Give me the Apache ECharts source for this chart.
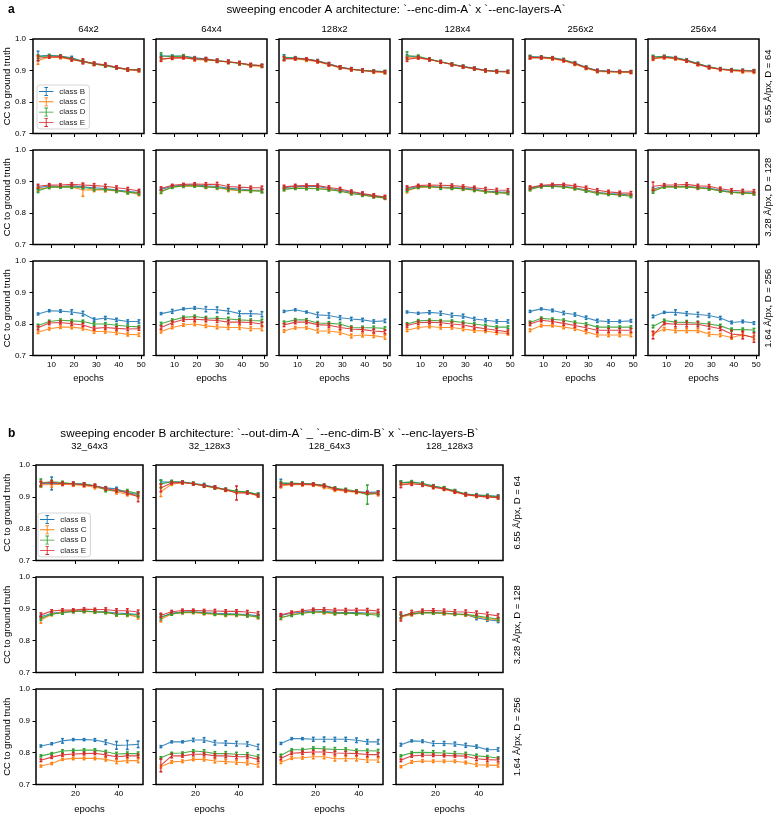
<!DOCTYPE html>
<html><head><meta charset="utf-8">
<script src="https://cdn.jsdelivr.net/npm/echarts@6/dist/echarts.min.js"></script>
<style>html,body{margin:0;padding:0;background:#fff}#c{width:782px;height:816px}</style>
</head><body><div id="c"></div>
<script>
// ---------------- DATA ----------------
const epochs = [4,9,14,19,24,29,34,39,44,49];
const classNames = ['class B','class C','class D','class E'];
const classColors = ['#1f77b4','#ff7f0e','#2ca02c','#d62728'];
const yTicks = [0.7,0.8,0.9,1.0];
const aXTicks = [10,20,30,40,50];
const bXTicks = [20,40];
const aCols = ['64x2','64x4','128x2','128x4','256x2','256x4'];
const bCols = ['32_64x3','32_128x3','128_64x3','128_128x3'];
const rowLabels = ['6.55 Å/px, D = 64','3.28 Å/px, D = 128','1.64 Å/px, D = 256'];
const aTitle = 'sweeping encoder A architecture: `--enc-dim-A` x `--enc-layers-A`';
const bTitle = 'sweeping encoder B architecture: `--out-dim-A` _ `--enc-dim-B` x `--enc-layers-B`';
const yLabel = 'CC to ground truth';
const xLabel = 'epochs';

// panel a: 18 subplots, row-major (row0: 6.55, row1: 3.28, row2: 1.64)
const aB = [
 [.946,.948,.946,.940,.929,.921,.917,.910,.903,.902],
 [.946,.946,.946,.940,.937,.931,.928,.923,.917,.915],
 [.942,.940,.936,.931,.921,.911,.905,.901,.898,.897],
 [.946,.943,.935,.928,.920,.913,.907,.901,.898,.897],
 [.944,.943,.940,.934,.924,.910,.900,.898,.896,.896],
 [.943,.945,.941,.933,.922,.912,.905,.902,.900,.899],
 [.880,.886,.884,.886,.883,.880,.878,.873,.869,.865],
 [.875,.885,.889,.889,.886,.884,.879,.876,.873,.872],
 [.880,.884,.885,.884,.878,.872,.866,.860,.854,.850],
 [.877,.884,.884,.882,.881,.879,.876,.870,.867,.866],
 [.879,.886,.887,.885,.880,.873,.866,.862,.860,.857],
 [.876,.885,.884,.885,.881,.879,.872,.867,.865,.863],
 [.832,.842,.841,.838,.833,.814,.819,.813,.808,.808],
 [.833,.840,.848,.851,.847,.845,.841,.833,.833,.831],
 [.840,.845,.838,.829,.827,.820,.816,.813,.808,.810],
 [.838,.834,.837,.834,.828,.825,.816,.812,.808,.808],
 [.840,.848,.843,.835,.830,.820,.810,.808,.808,.810],
 [.824,.837,.837,.833,.830,.827,.819,.805,.808,.803]
];
const aC = [
 [.932,.942,.941,.935,.928,.920,.916,.909,.902,.899],
 [.936,.939,.941,.935,.933,.930,.926,.923,.915,.913],
 [.938,.937,.933,.928,.918,.908,.903,.899,.895,.893],
 [.940,.940,.934,.927,.919,.911,.905,.899,.896,.895],
 [.940,.940,.937,.931,.920,.907,.897,.895,.894,.894],
 [.937,.941,.937,.930,.919,.909,.903,.899,.896,.895],
 [.875,.882,.883,.883,.873,.874,.873,.870,.866,.860],
 [.867,.883,.885,.886,.883,.880,.874,.871,.871,.870],
 [.876,.879,.879,.878,.875,.870,.862,.857,.852,.847],
 [.870,.882,.883,.881,.879,.876,.872,.868,.864,.863],
 [.876,.884,.885,.883,.878,.871,.864,.860,.857,.856],
 [.872,.883,.883,.883,.879,.877,.870,.865,.863,.861],
 [.774,.785,.790,.790,.786,.776,.776,.772,.767,.766],
 [.776,.789,.797,.800,.794,.791,.789,.789,.785,.785],
 [.778,.788,.788,.778,.778,.773,.762,.765,.763,.758],
 [.780,.789,.792,.789,.789,.784,.779,.778,.772,.770],
 [.780,.795,.795,.790,.785,.775,.765,.765,.765,.765],
 [.770,.784,.779,.779,.779,.768,.765,.757,.766,.757]
];
const aD = [
 [.944,.946,.946,.937,.929,.921,.915,.909,.903,.902],
 [.946,.944,.946,.938,.935,.931,.927,.923,.917,.915],
 [.941,.939,.936,.930,.920,.910,.904,.900,.898,.896],
 [.947,.945,.936,.928,.920,.912,.906,.900,.897,.896],
 [.943,.942,.940,.934,.923,.909,.899,.897,.896,.896],
 [.943,.944,.940,.932,.921,.911,.905,.902,.900,.899],
 [.871,.882,.883,.882,.881,.876,.875,.871,.866,.863],
 [.868,.882,.886,.886,.883,.881,.876,.872,.871,.869],
 [.875,.879,.878,.877,.874,.869,.862,.857,.852,.848],
 [.873,.882,.884,.880,.879,.877,.873,.868,.865,.863],
 [.875,.884,.884,.883,.878,.870,.862,.860,.857,.853],
 [.868,.883,.883,.883,.880,.877,.870,.866,.864,.862],
 [.795,.808,.812,.810,.808,.800,.800,.796,.793,.791],
 [.801,.812,.821,.824,.819,.818,.816,.813,.811,.810],
 [.805,.813,.813,.803,.802,.800,.789,.788,.788,.786],
 [.800,.810,.812,.810,.809,.805,.800,.795,.790,.790],
 [.805,.818,.815,.812,.805,.800,.790,.790,.790,.790],
 [.792,.811,.806,.805,.803,.800,.794,.782,.782,.781]
];
const aE = [
 [.939,.943,.944,.935,.929,.922,.918,.910,.903,.901],
 [.936,.940,.941,.937,.936,.931,.928,.924,.918,.916],
 [.937,.938,.936,.929,.920,.910,.904,.900,.897,.895],
 [.935,.941,.935,.927,.919,.912,.906,.900,.897,.896],
 [.941,.941,.939,.932,.922,.909,.899,.897,.896,.895],
 [.939,.942,.939,.931,.920,.910,.904,.901,.899,.898],
 [.885,.889,.889,.891,.889,.887,.885,.880,.876,.870],
 [.878,.888,.891,.892,.891,.891,.884,.882,.880,.880],
 [.883,.886,.887,.887,.881,.876,.868,.862,.856,.851],
 [.880,.887,.889,.888,.887,.884,.880,.876,.873,.872],
 [.881,.888,.890,.890,.886,.880,.872,.867,.864,.863],
 [.885,.889,.889,.891,.886,.885,.877,.872,.870,.869],
 [.788,.803,.805,.801,.797,.786,.789,.786,.784,.785],
 [.789,.804,.814,.815,.813,.811,.806,.806,.805,.800],
 [.797,.806,.806,.798,.796,.789,.784,.782,.778,.775],
 [.795,.804,.806,.804,.800,.797,.790,.785,.780,.775],
 [.800,.812,.808,.802,.795,.788,.780,.780,.780,.780],
 [.765,.802,.799,.799,.799,.792,.785,.768,.765,.757]
];
// error bar half-lengths, in thousandths of CC
const aBErrMilli = [
 [15,3,3,5,4,4,4,4,4,3],[4,3,4,4,4,4,4,4,4,3],[8,4,4,4,4,4,4,4,3,3],[4,4,4,4,4,4,4,4,3,3],[4,3,3,4,4,4,4,3,3,3],[4,3,3,4,4,4,4,3,3,3],
 [6,4,4,4,5,5,5,5,5,5],[4,3,3,3,4,4,5,5,5,5],[4,4,4,4,4,4,4,4,4,4],[6,3,3,4,4,4,4,4,4,4],[4,3,3,4,4,4,4,4,4,4],[5,3,3,3,4,4,4,4,4,4],
 [3,3,4,7,7,5,5,5,5,5],[3,6,3,4,8,9,8,8,8,8],[3,3,3,8,8,6,5,5,5,5],[3,3,5,6,6,6,5,5,5,5],[3,3,4,5,5,5,5,5,4,4],[4,3,8,6,7,6,5,4,4,4]
];
const aCErrMilli = [
 [12,3,4,4,5,5,4,4,4,4],[5,4,4,5,5,4,4,4,4,4],[5,4,4,4,4,4,4,4,4,4],[5,4,4,4,4,4,4,4,4,4],[4,4,4,4,4,4,4,4,4,4],[5,4,4,4,4,4,4,4,4,4],
 [6,4,4,4,20,6,6,5,5,5],[5,4,4,4,5,5,6,6,6,5],[5,4,4,4,4,4,4,4,4,4],[6,4,4,4,4,4,4,4,4,4],[5,4,4,4,4,4,4,4,4,4],[5,4,4,4,4,4,4,4,4,4],
 [4,4,4,5,5,5,5,5,5,5],[4,4,4,5,5,6,6,6,6,6],[4,4,4,6,6,6,6,6,6,6],[4,4,4,5,5,5,5,5,5,5],[4,4,4,5,5,5,5,5,5,5],[5,5,6,6,6,6,5,5,6,6]
];
const aDErrMilli = [
 [6,4,4,4,4,4,4,3,3,3],[10,4,4,4,4,5,5,5,4,4],[5,4,4,4,4,4,4,4,4,4],[12,4,4,4,4,4,4,4,4,4],[4,4,4,4,4,4,4,4,4,4],[5,4,4,4,4,4,4,4,4,4],
 [6,4,4,4,4,5,5,5,5,5],[5,4,4,4,4,4,5,5,5,5],[4,4,4,4,4,4,4,4,4,4],[5,4,4,5,4,4,4,4,4,4],[4,4,4,4,4,4,4,4,4,4],[5,4,4,4,4,4,4,4,4,4],
 [4,4,4,4,4,4,4,4,4,4],[4,4,4,4,5,5,5,5,5,5],[4,4,4,5,5,5,5,5,5,5],[4,4,4,4,4,4,4,4,4,4],[4,4,4,4,4,4,4,4,4,4],[4,4,5,6,6,6,5,5,5,5]
];
const aEErrMilli = [
 [8,4,4,5,8,5,6,5,5,4],[7,4,4,5,5,5,5,5,5,4],[6,4,4,4,5,5,5,5,4,4],[6,4,4,4,4,4,4,4,4,4],[4,4,4,4,4,4,4,4,4,4],[5,4,4,4,4,4,4,4,4,4],
 [6,4,4,5,6,6,6,6,5,5],[5,3,3,4,5,6,6,6,5,5],[5,5,5,5,5,5,5,5,5,5],[6,4,4,6,5,5,5,5,5,5],[5,4,4,4,5,5,5,5,5,5],[13,4,4,5,5,5,5,5,5,5],
 [5,5,5,5,5,5,5,5,5,5],[5,5,5,6,6,6,6,6,6,6],[5,5,5,6,6,6,6,6,6,6],[5,5,5,6,6,6,6,6,6,6],[5,5,5,6,6,6,6,6,6,6],[12,4,8,8,8,8,6,12,12,15]
];

// panel b: 12 subplots, row-major
const bB = [
 [.941,.942,.942,.942,.940,.934,.928,.925,.913,.907],
 [.947,.946,.947,.942,.938,.930,.923,.917,.914,.907],
 [.943,.941,.942,.940,.935,.926,.920,.916,.914,.915],
 [.945,.946,.942,.934,.927,.918,.909,.906,.904,.902],
 [.875,.886,.890,.893,.893,.891,.891,.887,.885,.882],
 [.873,.887,.890,.891,.888,.886,.885,.884,.882,.878],
 [.879,.886,.890,.893,.892,.889,.888,.888,.887,.886],
 [.878,.883,.888,.888,.886,.884,.882,.871,.866,.862],
 [.821,.828,.837,.841,.841,.840,.833,.823,.824,.826],
 [.819,.834,.834,.840,.840,.831,.830,.828,.827,.818],
 [.829,.844,.844,.842,.842,.842,.842,.839,.834,.834],
 [.825,.837,.836,.829,.829,.827,.823,.819,.809,.810]
];
const bC = [
 [.938,.938,.940,.938,.936,.930,.924,.915,.908,.903],
 [.916,.940,.944,.941,.934,.928,.921,.914,.913,.903],
 [.934,.938,.938,.937,.930,.921,.918,.914,.911,.908],
 [.941,.942,.938,.930,.924,.915,.906,.902,.899,.897],
 [.865,.882,.890,.892,.892,.890,.889,.883,.882,.874],
 [.867,.884,.888,.889,.885,.883,.881,.881,.879,.873],
 [.871,.882,.887,.890,.888,.885,.886,.885,.884,.885],
 [.874,.882,.887,.887,.885,.883,.881,.875,.869,.866],
 [.758,.766,.779,.782,.782,.782,.779,.772,.775,.775],
 [.756,.771,.773,.779,.779,.774,.772,.770,.768,.761],
 [.770,.783,.784,.787,.787,.781,.781,.781,.777,.777],
 [.756,.771,.774,.773,.773,.773,.769,.762,.761,.760]
];
const bD = [
 [.944,.947,.945,.941,.940,.935,.922,.920,.918,.910],
 [.940,.948,.946,.942,.935,.929,.923,.918,.915,.908],
 [.943,.943,.942,.940,.936,.927,.923,.918,.907,.913],
 [.944,.947,.942,.934,.928,.919,.909,.905,.903,.900],
 [.870,.884,.887,.892,.893,.891,.889,.883,.883,.880],
 [.875,.884,.889,.890,.887,.884,.882,.882,.879,.875],
 [.873,.880,.886,.890,.890,.886,.887,.885,.883,.880],
 [.876,.885,.888,.888,.887,.884,.883,.878,.873,.868],
 [.790,.797,.805,.807,.808,.808,.803,.796,.797,.797],
 [.784,.798,.799,.805,.803,.797,.797,.795,.794,.787],
 [.792,.809,.809,.814,.812,.810,.810,.806,.806,.805],
 [.790,.800,.801,.800,.799,.797,.796,.790,.787,.783]
];
const bE = [
 [.942,.946,.941,.941,.938,.935,.926,.920,.913,.900],
 [.928,.944,.945,.941,.935,.930,.922,.912,.913,.904],
 [.938,.940,.940,.939,.935,.925,.920,.916,.913,.912],
 [.937,.941,.938,.931,.925,.916,.907,.903,.900,.898],
 [.881,.893,.896,.896,.899,.898,.898,.894,.894,.890],
 [.880,.891,.895,.895,.894,.893,.892,.892,.890,.886],
 [.881,.889,.894,.898,.898,.896,.896,.896,.896,.893],
 [.876,.888,.894,.895,.893,.891,.890,.887,.883,.878],
 [.776,.786,.793,.796,.797,.798,.793,.787,.790,.790],
 [.760,.790,.790,.795,.795,.790,.790,.787,.787,.779],
 [.782,.798,.800,.802,.802,.799,.798,.797,.794,.794],
 [.776,.790,.792,.792,.791,.790,.789,.781,.778,.777]
];
const bBErrMilli = [
 [6,20,4,4,4,4,4,5,4,5],[6,4,3,3,4,4,4,4,4,4],[12,4,4,4,4,4,4,4,4,4],[5,4,4,4,4,4,4,4,4,4],
 [5,4,4,4,4,4,4,5,5,6],[10,4,3,3,4,4,4,4,4,5],[4,4,4,4,4,4,4,4,4,4],[6,4,4,4,4,4,4,5,5,5],
 [3,3,7,3,3,4,7,12,14,10],[3,3,3,5,7,7,7,7,7,8],[3,3,3,6,7,6,6,7,7,7],[4,3,4,7,6,6,6,5,4,5]
];
const bCErrMilli = [
 [8,8,4,5,5,5,5,6,5,6],[15,4,4,4,4,4,4,4,4,4],[6,4,4,4,4,4,4,4,4,5],[5,4,4,4,4,4,4,4,4,4],
 [10,4,4,4,4,4,4,6,6,6],[8,4,4,4,4,4,5,5,5,5],[5,4,4,4,4,4,4,4,4,4],[6,4,4,4,4,4,4,5,5,5],
 [3,3,3,4,4,4,5,6,6,6],[4,4,4,4,5,6,6,6,6,6],[4,4,4,6,6,7,7,7,7,7],[3,4,4,4,4,4,4,5,5,5]
];
const bDErrMilli = [
 [12,5,4,4,4,4,6,5,5,6],[12,4,4,4,4,4,4,4,4,4],[5,4,4,4,4,4,4,4,30,5],[5,4,4,4,4,4,4,4,4,4],
 [6,4,4,4,4,4,4,5,5,6],[6,4,4,4,4,4,4,4,4,4],[5,4,4,4,4,4,4,4,4,4],[6,4,4,4,4,4,4,5,5,5],
 [3,3,4,4,4,4,4,5,5,5],[3,3,3,4,6,6,6,6,6,6],[3,3,4,4,6,6,5,5,5,5],[3,3,6,6,6,6,5,5,4,4]
];
const bEErrMilli = [
 [7,5,5,5,5,5,5,5,6,15],[12,4,4,4,4,4,4,22,4,4],[6,4,4,4,4,4,4,4,4,5],[8,5,5,5,4,4,4,4,4,4],
 [6,4,4,4,4,4,5,6,6,6],[6,4,4,4,4,5,5,5,5,5],[4,4,4,4,5,5,5,5,5,5],[14,7,5,5,6,6,6,6,6,6],
 [4,4,4,4,4,4,5,5,5,5],[20,6,4,5,5,6,6,6,6,6],[4,4,5,5,6,6,6,6,6,6],[4,4,4,4,4,4,5,6,6,6]
];

// ---------------- LAYOUT / RENDER ----------------
const FONT = '"Liberation Sans", Arial, Helvetica, sans-serif';
const chart = echarts.init(document.getElementById('c'), null, {renderer: 'canvas'});
const grids = [], xAxes = [], yAxes = [], series = [], graphics = [], legends = [];
const ICON = 'path://M0,4.5H16V5.5H0Z M7.5,0H8.5V10H7.5Z M6,0H10V1H6Z M6,9H10V10H6Z';

function makeErr(col) {
  return function (params, api) {
    const x = api.value(0), y = api.value(1), e = api.value(2);
    const lo = api.coord([x, y - e]), hi = api.coord([x, y + e]);
    const h = 1.4;
    const st = {stroke: col, lineWidth: 1.1};
    const cs = {stroke: col, lineWidth: 1.6};
    return {type: 'group', children: [
      {type: 'line', shape: {x1: lo[0], y1: lo[1], x2: hi[0], y2: hi[1]}, style: st},
      {type: 'line', shape: {x1: lo[0] - h, y1: lo[1], x2: lo[0] + h, y2: lo[1]}, style: cs},
      {type: 'line', shape: {x1: hi[0] - h, y1: hi[1], x2: hi[0] + h, y2: hi[1]}, style: cs}
    ]};
  };
}

function txt(x, y, text, opts) {
  opts = opts || {};
  graphics.push({
    type: 'text', x: x, y: y, rotation: opts.rot || 0, silent: true, z: 100,
    style: {text: text, fill: '#000', fontSize: opts.size || 9.5, fontFamily: FONT,
            fontWeight: opts.bold ? 'bold' : 'normal',
            align: opts.align || 'center', verticalAlign: 'middle'}
  });
}

function addPanel(P) {
  const nC = P.cols.length;
  for (let r = 0; r < 3; r++) {
    for (let c = 0; c < nC; c++) {
      const idx = r * nC + c;
      const g = grids.length;
      const left = P.left0 + c * P.pitch, top = P.tops[r];
      grids.push({left: left, top: top, width: P.w, height: P.h, show: true,
        borderColor: '#000', borderWidth: 1.5, backgroundColor: 'rgba(0,0,0,0)', containLabel: false});
      xAxes.push({gridIndex: g, type: 'value', min: 1.75, max: 51.25,
        axisLine: {show: false}, splitLine: {show: false},
        axisTick: {show: true, inside: false, length: 3.5, customValues: P.xTicks, lineStyle: {color: '#000', width: 1}},
        axisLabel: {show: r === 2, customValues: P.xTicks, fontSize: 8, color: '#000', fontFamily: FONT, margin: 5}
      });
      yAxes.push({gridIndex: g, type: 'value', min: 0.7, max: 1.0,
        axisLine: {show: false}, splitLine: {show: false},
        axisTick: {show: true, inside: false, length: 3.5, customValues: yTicks, lineStyle: {color: '#000', width: 1}},
        axisLabel: {show: c === 0, customValues: yTicks, fontSize: 8, color: '#000', fontFamily: FONT, margin: P.yMargin,
          formatter: function (v) { return (+v).toFixed(1); }}
      });
      for (let k = 0; k < 4; k++) {
        const vals = P.vals[k][idx], errs = P.errs[k][idx];
        series.push({type: 'line', name: classNames[k], xAxisIndex: g, yAxisIndex: g,
          data: epochs.map(function (e, i) { return [e, vals[i]]; }),
          symbol: 'none', lineStyle: {color: classColors[k], width: 1.1, opacity: 0.85},
          itemStyle: {color: classColors[k]}, z: 3 + k * 2, silent: true, animation: false});
        series.push({type: 'custom', name: 'err ' + classNames[k], xAxisIndex: g, yAxisIndex: g,
          data: epochs.map(function (e, i) { return [e, vals[i], errs[i] / 1000]; }),
          renderItem: makeErr(classColors[k]), z: 3 + k * 2, silent: true, animation: false});
      }
      if (r === 0) txt(left + P.w / 2, P.colTitleY, P.cols[c]);
      if (r === 2) txt(left + P.w / 2, P.xLabelY, xLabel);
    }
    const cy = P.tops[r] + P.h / 2;
    txt(7.5, cy, yLabel, {rot: Math.PI / 2});
    txt(P.rowLabelX, cy, rowLabels[r], {rot: Math.PI / 2});
  }
  const gridCenter = P.left0 + ((nC - 1) * P.pitch + P.w) / 2;
  txt(gridCenter, P.titleY, P.title, {size: 11.7});
  txt(8, P.titleY, P.letter, {size: 12, bold: true, align: 'left'});
  legends.push({show: true, orient: 'vertical', left: P.legLeft, top: P.legTop,
    data: classNames.map(function (n, k) { return {name: n, icon: ICON, itemStyle: {color: classColors[k], borderWidth: 0}}; }),
    itemWidth: 16, itemHeight: 9, itemGap: 1.3, selectedMode: false,
    textStyle: {fontSize: 8, color: '#222', fontFamily: FONT},
    borderColor: '#cccccc', borderWidth: 0.8, borderRadius: 3, padding: [2, 4, 2, 2],
    backgroundColor: 'rgba(255,255,255,0.85)', z: 50});
}

addPanel({cols: aCols, left0: 33, pitch: 123, w: 111, tops: [39, 150, 261], h: 94.5,
  xTicks: aXTicks, vals: [aB, aC, aD, aE], errs: [aBErrMilli, aCErrMilli, aDErrMilli, aEErrMilli],
  colTitleY: 29, xLabelY: 378, rowLabelX: 768, title: aTitle, titleY: 9.5, letter: 'a',
  yMargin: 7, legLeft: 37, legTop: 85});
addPanel({cols: bCols, left0: 36, pitch: 120, w: 107, tops: [465, 577, 689], h: 95.5,
  xTicks: bXTicks, vals: [bB, bC, bD, bE], errs: [bBErrMilli, bCErrMilli, bDErrMilli, bEErrMilli],
  colTitleY: 446, xLabelY: 809, rowLabelX: 517.5, title: bTitle, titleY: 434, letter: 'b',
  yMargin: 6, legLeft: 38, legTop: 513});

chart.setOption({
  animation: false,
  backgroundColor: '#fff',
  grid: grids, xAxis: xAxes, yAxis: yAxes, series: series,
  legend: legends, graphic: graphics
});
</script>
</body></html>
